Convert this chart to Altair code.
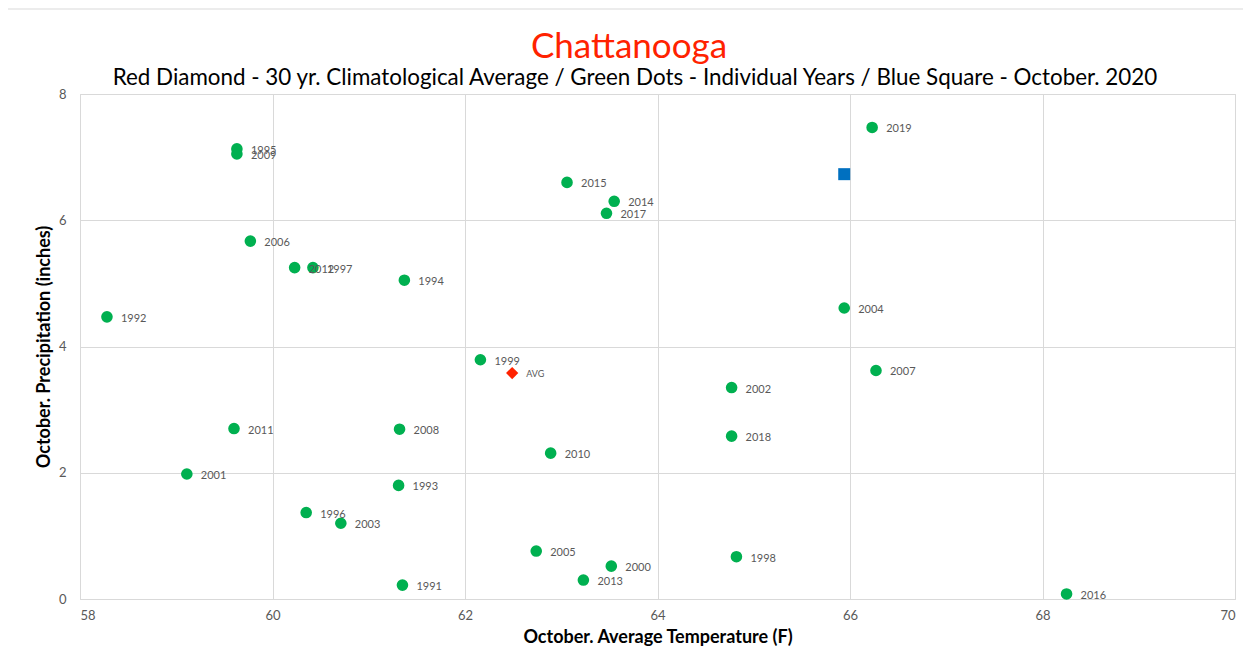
import altair as alt
import pandas as pd

years = [1991, 1992, 1993, 1994, 1995, 1996, 1997, 1998, 1999, 2000,
         2001, 2002, 2003, 2004, 2005, 2006, 2007, 2008, 2009, 2010,
         2011, 2012, 2013, 2014, 2015, 2016, 2017, 2018, 2019]
temps = [61.35, 58.28, 61.31, 61.37, 59.63, 60.35, 60.42, 64.82, 62.16, 63.52,
         59.11, 64.77, 60.71, 65.94, 62.74, 59.77, 66.27, 61.32, 59.63, 62.89,
         59.60, 60.23, 63.23, 63.55, 63.06, 68.25, 63.47, 64.77, 66.23]
precip = [0.22, 4.47, 1.80, 5.05, 7.13, 1.37, 5.25, 0.67, 3.79, 0.52,
          1.98, 3.35, 1.20, 4.61, 0.76, 5.67, 3.62, 2.69, 7.05, 2.31,
          2.70, 5.25, 0.30, 6.30, 6.60, 0.08, 6.11, 2.58, 7.47]

avg_temp = [62.49]
avg_precip = [3.58]
avg_label = ["AVG"]

cur_temp = [65.94]
cur_precip = [6.73]

x_ticks = [58, 60, 62, 64, 66, 68, 70]
y_ticks = [0, 2, 4, 6, 8]

title_text = ["Chattanooga"]
subtitle_text = ["Red Diamond - 30 yr. Climatological Average / Green Dots - Individual Years / Blue Square - October. 2020"]

df_years = pd.DataFrame({"year": [str(y) for y in years], "temp": temps, "precip": precip})
df_avg = pd.DataFrame({"label": avg_label, "temp": avg_temp, "precip": avg_precip})
df_cur = pd.DataFrame({"temp": cur_temp, "precip": cur_precip})
df_title = pd.DataFrame({"t": title_text})
df_sub = pd.DataFrame({"t": subtitle_text})

FONT = "Lato"

xscale = alt.Scale(domain=[58, 70], nice=False, zero=False)
yscale = alt.Scale(domain=[0, 8], nice=False, zero=False)

xenc = alt.X("temp:Q", scale=xscale, axis=alt.Axis(
    title="October. Average Temperature (F)", values=x_ticks, format="d",
    grid=True, ticks=False, domain=False, labelPadding=10, titlePadding=6,
    labelFontSize=13, labelColor="#595959", titleFontSize=18, titleFontWeight="bold",
    titleColor="#000000", labelFont=FONT, titleFont=FONT))
yenc = alt.Y("precip:Q", scale=yscale, axis=alt.Axis(
    title="October. Precipitation (inches)", values=y_ticks, format="d",
    grid=True, ticks=False, domain=False, labelPadding=14, titlePadding=5,
    labelFontSize=13, labelColor="#595959", titleFontSize=18, titleFontWeight="bold",
    titleColor="#000000", labelFont=FONT, titleFont=FONT))

frame = alt.Chart(pd.DataFrame({"a": [0]})).mark_rect(
    fill=None, stroke="#D9D9D9", strokeWidth=1
).encode(x=alt.value(-73), x2=alt.value(1170), y=alt.value(-85), y2=alt.value(570))

title = alt.Chart(df_title).mark_text(
    align="center", baseline="alphabetic", fontSize=35, color="#FF2200", font=FONT
).encode(x=alt.value(549), y=alt.value(-36), text="t:N")

subtitle = alt.Chart(df_sub).mark_text(
    align="center", baseline="alphabetic", fontSize=22.4, color="#000000", font=FONT
).encode(x=alt.value(555), y=alt.value(-9), text="t:N")

dots = alt.Chart(df_years).mark_point(
    shape="circle", filled=True, size=135, color="#00B050", opacity=1
).encode(x=xenc, y=yenc)

labels = alt.Chart(df_years).mark_text(
    align="left", baseline="middle", dx=14, dy=2, fontSize=11, color="#595959", font=FONT
).encode(x="temp:Q", y="precip:Q", text="year:N")

avg = alt.Chart(df_avg).mark_point(
    shape="diamond", filled=True, size=150, color="#FF2200", opacity=1
).encode(x="temp:Q", y="precip:Q")

avg_text = alt.Chart(df_avg).mark_text(
    align="left", baseline="middle", dx=14, dy=1, fontSize=9, color="#595959", font=FONT
).encode(x="temp:Q", y="precip:Q", text="label:N")

cur = alt.Chart(df_cur).mark_point(
    shape="square", filled=True, size=144, color="#0070C0", opacity=1
).encode(x="temp:Q", y="precip:Q")

chart = alt.layer(frame, dots, labels, avg, avg_text, cur, title, subtitle).properties(
    width=1155, height=505,
    autosize=alt.AutoSizeParams(type="none"),
    padding={"left": 72, "top": 86, "right": 8, "bottom": 52},
).configure_view(stroke="#D9D9D9").configure_axis(gridColor="#D9D9D9", gridWidth=1)

chart.save("out.html", embed_options={"renderer": "svg", "actions": False})
